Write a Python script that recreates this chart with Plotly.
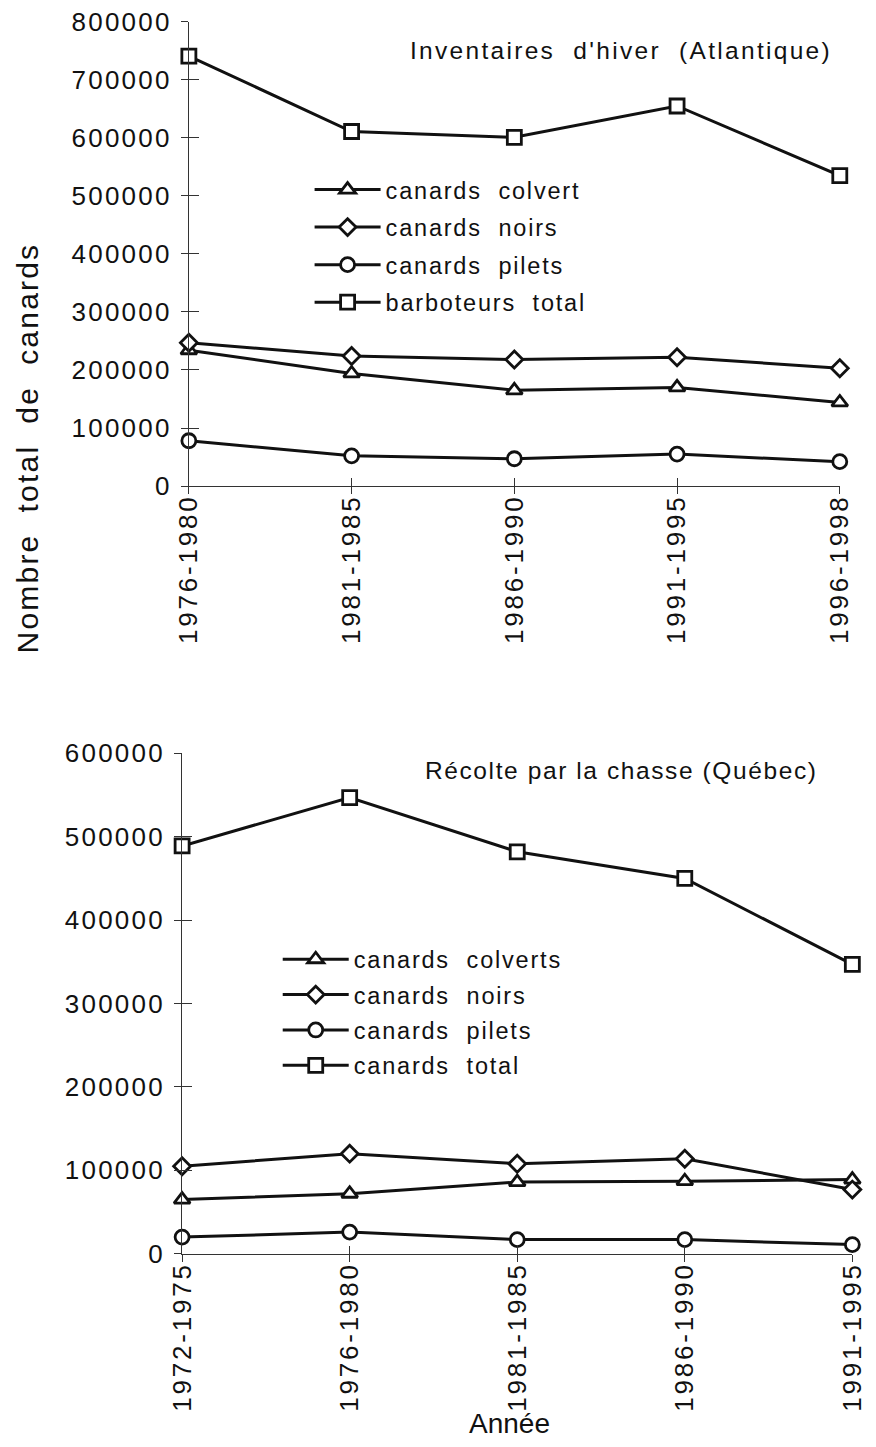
import plotly.graph_objects as go

# ---- Inventaires d'hiver (Atlantique) ----
periodes_hiver = ["1976-1980", "1981-1985", "1986-1990", "1991-1995", "1996-1998"]
hiver_colvert = [234000, 194000, 165000, 170000, 144000]
hiver_noirs = [247000, 224000, 218000, 222000, 203000]
hiver_pilets = [78000, 52000, 47000, 55000, 42000]
hiver_total = [741000, 611000, 601000, 655000, 535000]
ticks_hiver = [0, 100000, 200000, 300000, 400000, 500000, 600000, 700000, 800000]

# ---- Récolte par la chasse (Québec) ----
periodes_chasse = ["1972-1975", "1976-1980", "1981-1985", "1986-1990", "1991-1995"]
chasse_colverts = [65000, 72000, 86000, 87000, 89000]
chasse_noirs = [105000, 120000, 108000, 114000, 77000]
chasse_pilets = [20000, 26000, 17000, 17000, 11000]
chasse_total = [489000, 547000, 482000, 450000, 347000]
ticks_chasse = [0, 100000, 200000, 300000, 400000, 500000, 600000]

W, H = 876, 1447
FONT = "Liberation Sans, Arial, Helvetica, sans-serif"
INK = "#111"


def spaced(text, px):
    return f'<span style="letter-spacing:{px}px">{text}</span>'


def px_x(v):
    return v / W


def px_y(v):
    return 1 - v / H


symbols = {"colvert": ("triangle-up", 14), "noirs": ("diamond", 13),
           "pilets": ("circle", 14), "total": ("square", 14)}

fig = go.Figure()


def add_series(xs, ys, name, kind, xa, ya, legend):
    sym, size = symbols[kind]
    fig.add_trace(go.Scatter(
        x=list(range(len(xs))), y=ys, name=spaced(name, 1.8), mode="lines+markers",
        line=dict(color=INK, width=3),
        marker=dict(symbol=sym, size=size, color="white",
                    line=dict(color=INK, width=2.8)),
        xaxis=xa, yaxis=ya, legend=legend, legendgroup=name, cliponaxis=False,
    ))


add_series(periodes_hiver, hiver_colvert, "canards  colvert", "colvert", "x", "y", "legend")
add_series(periodes_hiver, hiver_noirs, "canards  noirs", "noirs", "x", "y", "legend")
add_series(periodes_hiver, hiver_pilets, "canards  pilets", "pilets", "x", "y", "legend")
add_series(periodes_hiver, hiver_total, "barboteurs  total", "total", "x", "y", "legend")

add_series(periodes_chasse, chasse_colverts, "canards  colverts", "colvert", "x2", "y2", "legend2")
add_series(periodes_chasse, chasse_noirs, "canards  noirs", "noirs", "x2", "y2", "legend2")
add_series(periodes_chasse, chasse_pilets, "canards  pilets", "pilets", "x2", "y2", "legend2")
add_series(periodes_chasse, chasse_total, "canards  total", "total", "x2", "y2", "legend2")

# empty traces so the tick-overlay axes are drawn
for xa, ya in (("x3", "y3"), ("x4", "y4")):
    fig.add_trace(go.Scatter(x=[None], y=[None], xaxis=xa, yaxis=ya,
                             showlegend=False, hoverinfo="skip"))

axis_common = dict(showgrid=False, zeroline=False, linecolor="#333", linewidth=1.2,
                   tickcolor="#333", tickwidth=1.2, ticklabeloverflow="allow",
                   tickfont=dict(family=FONT, size=26, color=INK))
overlay_common = dict(showticklabels=False, showline=False, showgrid=False, zeroline=False,
                      tickcolor="#333", tickwidth=1.2, ticks="inside", tickmode="array")

dom_x1 = [px_x(179), px_x(853)]
dom_y1 = [px_y(481), px_y(7)]
dom_x2 = [px_x(172), px_x(866)]
dom_y2 = [px_y(1265), px_y(754)]

legend_common = dict(xanchor="left", yanchor="top", bgcolor="rgba(0,0,0,0)",
                     font=dict(family=FONT, size=23.5, color=INK),
                     traceorder="grouped", itemwidth=66, itemsizing="trace")

fig.update_layout(
    width=W, height=H, margin=dict(l=0, r=0, t=0, b=0),
    paper_bgcolor="white", plot_bgcolor="white",
    font=dict(family=FONT, color=INK),
    xaxis=dict(domain=dom_x1, anchor="y", range=[0, 4], tickmode="array",
               tickvals=list(range(5)), ticktext=[spaced(t, 2.8) for t in periodes_hiver],
               tickangle=-90, ticks="outside", ticklen=7, ticklabelstandoff=-10,
               showline=True, **axis_common),
    yaxis=dict(domain=dom_y1, anchor="x", range=[0, 800000], tickmode="array",
               tickvals=ticks_hiver, ticktext=[spaced(str(v), 2.2) for v in ticks_hiver],
               ticks="outside", ticklen=7, ticklabelstandoff=4, showline=True, **axis_common),
    xaxis3=dict(domain=dom_x1, anchor="y3", overlaying="x", range=[0, 4],
                tickvals=list(range(5)), ticklen=8, **overlay_common),
    yaxis3=dict(domain=dom_y1, anchor="x3", overlaying="y", range=[0, 800000],
                tickvals=ticks_hiver, ticklen=10, **overlay_common),
    xaxis2=dict(domain=dom_x2, anchor="y2", range=[0, 4], tickmode="array",
                tickvals=list(range(5)), ticktext=[spaced(t, 2.8) for t in periodes_chasse],
                tickangle=-90, ticks="outside", ticklen=7, ticklabelstandoff=-10,
                showline=True, **axis_common),
    yaxis2=dict(domain=dom_y2, anchor="x2", range=[0, 600000], tickmode="array",
                tickvals=ticks_chasse, ticktext=[spaced(str(v), 2.2) for v in ticks_chasse],
                ticks="outside", ticklen=7, ticklabelstandoff=4, showline=True, **axis_common),
    xaxis4=dict(domain=dom_x2, anchor="y4", overlaying="x2", range=[0, 4],
                tickvals=list(range(5)), ticklen=8, **overlay_common),
    yaxis4=dict(domain=dom_y2, anchor="x4", overlaying="y2", range=[0, 600000],
                tickvals=ticks_chasse, ticklen=10, **overlay_common),
    legend=dict(x=px_x(304), y=px_y(156), tracegroupgap=4, **legend_common),
    legend2=dict(x=px_x(271), y=px_y(942), tracegroupgap=1.8, **legend_common),
    annotations=[
        dict(text=spaced("Inventaires  d'hiver  (Atlantique)", 2.3), xref="paper", yref="paper",
             x=px_x(406), y=px_y(36), xanchor="left", yanchor="middle", showarrow=False,
             font=dict(family=FONT, size=24.5, color=INK)),
        dict(text=spaced("Récolte par la chasse (Québec)", 1.6), xref="paper", yref="paper",
             x=px_x(421), y=px_y(772), xanchor="left", yanchor="middle", showarrow=False,
             font=dict(family=FONT, size=24.5, color=INK)),
        dict(text=spaced("Nombre  total  de  canards", 2.2), xref="paper", yref="paper",
             x=px_x(12), y=px_y(442), xanchor="center", yanchor="middle", textangle=-90,
             showarrow=False, font=dict(family=FONT, size=30, color=INK)),
        dict(text="Année", xref="paper", yref="paper",
             x=px_x(511), y=px_y(1438), xanchor="center", yanchor="middle", showarrow=False,
             font=dict(family=FONT, size=28, color=INK)),
    ],
)

fig.write_html("out.html")
